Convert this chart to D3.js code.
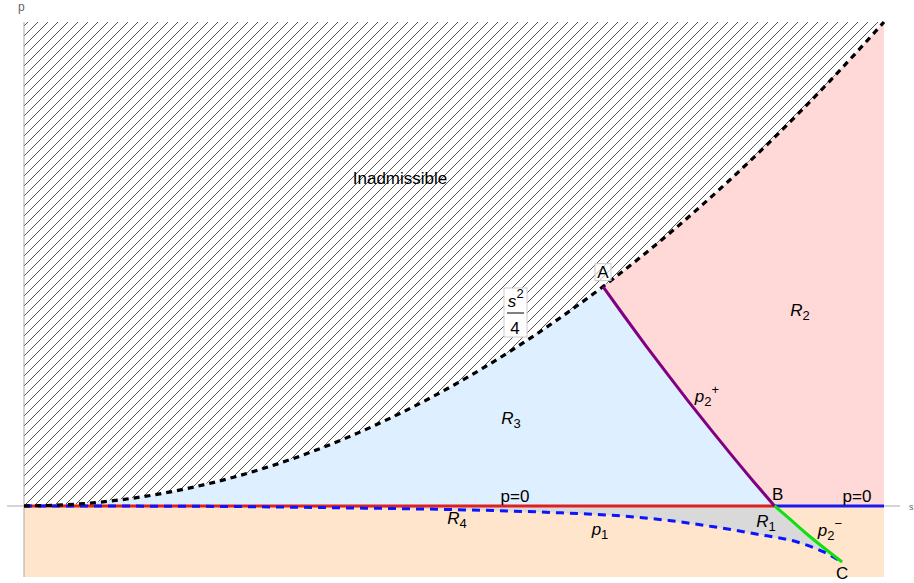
<!DOCTYPE html>
<html>
<head>
<meta charset="utf-8">
<script src="https://cdn.jsdelivr.net/npm/d3@7"></script>
<style>
  body { margin: 0; background: #fff; }
  svg text { font-family: "Liberation Sans", Arial, sans-serif; }
</style>
</head>
<body>
<div id="chart"></div>
<script>
// boundary s^2/4
const boundaryS = [0, 0.25, 0.5, 0.75, 1, 1.25, 1.5, 1.75, 2, 2.25, 2.5, 2.693, 2.75, 3, 3.25, 3.5, 3.75, 4]
const boundaryP = [0, 0.016, 0.063, 0.141, 0.25, 0.391, 0.563, 0.766, 1, 1.266, 1.563, 1.813, 1.891, 2.25, 2.641, 3.063, 3.516, 4]

// p2+ : A -> B
const p2plusS = [2.693, 2.793, 2.893, 2.993, 3.093, 3.193, 3.293, 3.393, 3.491]
const p2plusP = [1.813, 1.566, 1.324, 1.089, 0.859, 0.635, 0.416, 0.203, 0]

// p2- : B -> C
const p2minusS = [3.491, 3.56, 3.63, 3.72, 3.805]
const p2minusP = [0, -0.105, -0.215, -0.345, -0.463]

// p1 : origin -> C
const p1S = [0, 0.5, 1.0, 1.5, 2.0, 2.5, 2.8, 3.0, 3.2, 3.4, 3.6, 3.72, 3.805]
const p1P = [0, -0.001, -0.005, -0.016, -0.03, -0.057, -0.085, -0.12, -0.17, -0.23, -0.3, -0.38, -0.463]

const sDomain = [0, 4]
const pDomain = [-0.587, 4]

const zip = (a, b) => a.map((d, i) => [d, b[i]])

const width = 914, height = 583
const svg = d3.select('#chart').append('svg')
    .attr('width', width)
    .attr('height', height)

const x = d3.scaleLinear().domain(sDomain).range([24, 884])
const y = d3.scaleLinear().domain(pDomain).range([577, 22])

const line = d3.line().x(d => x(d[0])).y(d => y(d[1]))
const curve = d3.line().x(d => x(d[0])).y(d => y(d[1])).curve(d3.curveMonotoneX)
const smooth = d3.line().x(d => x(d[0])).y(d => y(d[1])).curve(d3.curveNatural)

const boundary = zip(boundaryS, boundaryP)
const p2plus = zip(p2plusS, p2plusP)
const p2minus = zip(p2minusS, p2minusP)
const p1 = zip(p1S, p1P)
const A = p2plus[0], B = p2plus[p2plus.length - 1], C = p2minus[p2minus.length - 1]

// hatch
const defs = svg.append('defs')
defs.append('pattern')
    .attr('id', 'hatch')
    .attr('patternUnits', 'userSpaceOnUse')
    .attr('width', 10).attr('height', 10)
    .append('path')
    .attr('d', 'M0,10 L10,0 M-2,2 L2,-2 M8,12 L12,8')
    .attr('stroke', '#555')
    .attr('stroke-width', 1)

const poly = pts => 'M' + pts.map(d => x(d[0]) + ',' + y(d[1])).join('L') + 'Z'

// regions
const inadm = boundary.concat([[sDomain[0], pDomain[1]]])
svg.append('path').attr('d', poly(inadm)).attr('fill', 'url(#hatch)')

const r3 = boundary.filter(d => d[0] <= A[0]).concat(p2plus.slice(1), [[0, 0]])
svg.append('path').attr('d', poly(r3)).attr('fill', '#deefff')

const r2 = boundary.filter(d => d[0] >= A[0]).concat([[sDomain[1], 0]], p2plus.slice().reverse())
svg.append('path').attr('d', poly(r2)).attr('fill', '#ffd8d8')

const r4 = [[0, 0], [sDomain[1], 0], [sDomain[1], pDomain[0]], [0, pDomain[0]]]
svg.append('path').attr('d', poly(r4)).attr('fill', '#ffe5cc')

const r1 = [[0, 0]].concat(p2minus, p1.slice().reverse())
svg.append('path').attr('d', poly(r1)).attr('fill', '#d9d9d9')

// axes
svg.append('line')
    .attr('x1', 7).attr('x2', 900)
    .attr('y1', y(0)).attr('y2', y(0))
    .attr('stroke', '#aaa')
svg.append('line')
    .attr('x1', x(0)).attr('x2', x(0))
    .attr('y1', y(pDomain[1])).attr('y2', y(pDomain[0]))
    .attr('stroke', '#aaa')
svg.append('text').attr('x', 18).attr('y', 11)
    .attr('font-size', 12).attr('fill', '#666').text('p')
svg.append('text').attr('x', 909).attr('y', 510)
    .attr('font-size', 9).attr('fill', '#666').text('s')

// curves
svg.append('path').attr('d', line([[0, 0], B]))
    .attr('stroke', '#e02020').attr('stroke-width', 3).attr('fill', 'none')
svg.append('path').attr('d', line([B, [sDomain[1], 0]]))
    .attr('stroke', '#1a1aee').attr('stroke-width', 3).attr('fill', 'none')
svg.append('path').attr('d', curve(p1))
    .attr('stroke', '#0a14ff').attr('stroke-width', 3).attr('fill', 'none')
    .attr('stroke-dasharray', '8,6')
svg.append('path').attr('d', curve(boundary))
    .attr('stroke', '#000').attr('stroke-width', 3.2).attr('fill', 'none')
    .attr('stroke-dasharray', '6,5')
svg.append('path').attr('d', smooth(p2plus))
    .attr('stroke', '#800080').attr('stroke-width', 3).attr('fill', 'none')
svg.append('path').attr('d', smooth(p2minus))
    .attr('stroke', '#10e010').attr('stroke-width', 3).attr('fill', 'none')

// labels
function plain(t, px, py, size) {
    svg.append('text').attr('x', px).attr('y', py)
        .attr('text-anchor', 'middle').attr('font-size', size || 17).text(t)
}
function sym(base, sub, sup, px, py) {
    const t = svg.append('text').attr('x', px).attr('y', py)
        .attr('text-anchor', 'middle').attr('font-size', 17)
    t.append('tspan').attr('font-style', 'italic').text(base)
    t.append('tspan').attr('font-size', 13).attr('dy', 4).text(sub)
    if (sup) t.append('tspan').attr('font-size', 13).attr('dy', -12).text(sup)
}

plain('Inadmissible', 400, 184)
svg.append('rect').attr('x', x(A[0]) - 8).attr('y', y(A[1]) - 23)
    .attr('width', 16).attr('height', 17)
    .attr('fill', 'rgba(255,255,255,0.6)').attr('stroke', '#ccc')
plain('A', x(A[0]), y(A[1]) - 9)
plain('B', x(B[0]) + 3, y(0) - 6)
plain('C', x(C[0]), y(C[1]) + 17)
plain('p=0', 515, 502)
plain('p=0', 857, 502)

sym('R', '2', null, 800, 316)
sym('R', '3', null, 511, 424)
sym('R', '4', null, 457, 524)
sym('R', '1', null, 766, 527)
sym('p', '2', '+', 707, 402)
sym('p', '2', '\u2212', 830, 536)
sym('p', '1', null, 600, 535)

// s^2/4 label
const fx = 515
svg.append('rect').attr('x', 504).attr('y', 288)
    .attr('width', 23).attr('height', 49)
    .attr('fill', '#fff').attr('stroke', '#ccc')
svg.append('text').attr('x', fx - 3).attr('y', 307)
    .attr('text-anchor', 'middle').attr('font-size', 17)
    .attr('font-style', 'italic').text('s')
svg.append('text').attr('x', fx + 5).attr('y', 298)
    .attr('text-anchor', 'middle').attr('font-size', 13).text('2')
svg.append('line').attr('x1', 507).attr('x2', 524)
    .attr('y1', 313).attr('y2', 313).attr('stroke', '#000')
svg.append('text').attr('x', fx).attr('y', 334)
    .attr('text-anchor', 'middle').attr('font-size', 17).text('4')
</script>
</body>
</html>
